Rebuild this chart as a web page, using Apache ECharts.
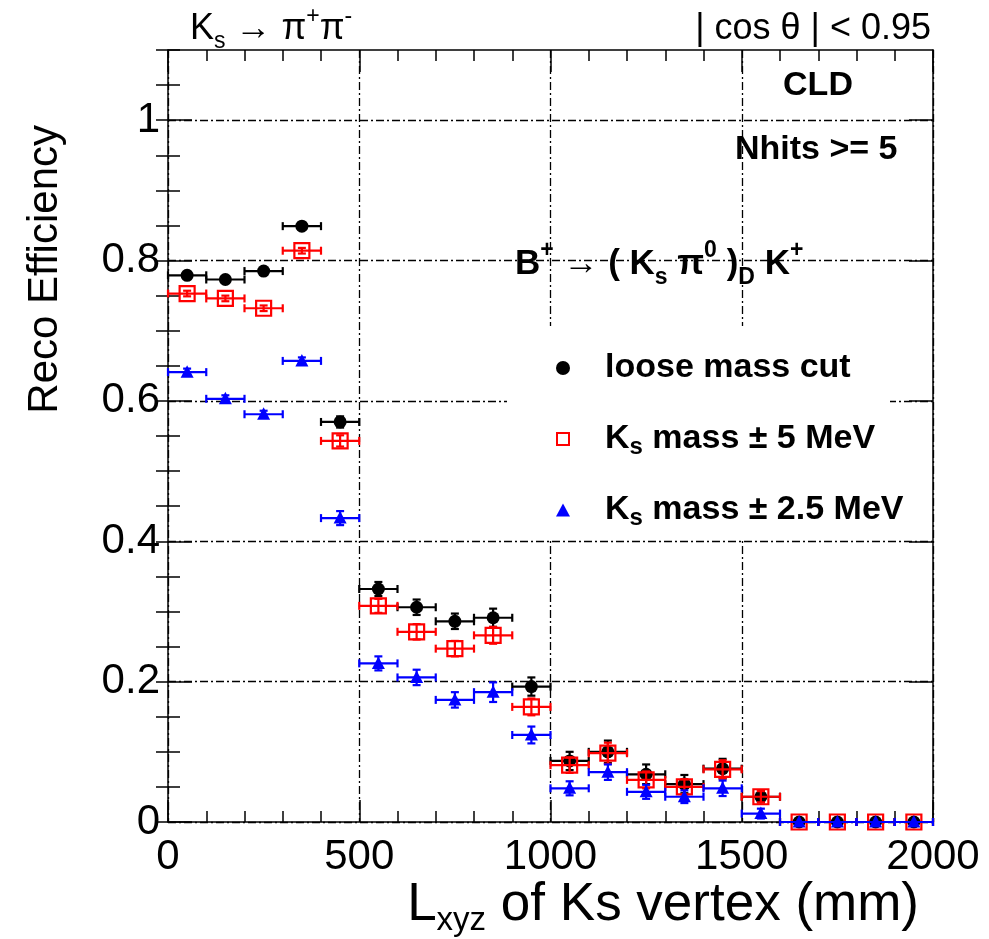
<!DOCTYPE html>
<html>
<head>
<meta charset="utf-8">
<script src="https://cdn.jsdelivr.net/npm/echarts@6/dist/echarts.min.js"></script>
<style>
  html, body { margin: 0; padding: 0; background: #fff; }
  #chart { width: 989px; height: 939px; }
</style>
</head>
<body>
<div id="chart"></div>
<script>
// Bin centres along L_xyz (mm); each bin is 100 mm wide
const binCenters = [50, 150, 250, 350, 450, 550, 650, 750, 850, 950,
                    1050, 1150, 1250, 1350, 1450, 1550, 1650, 1750, 1850, 1950];
const binHalfWidth = 50;

// Reconstruction efficiency per bin, with statistical uncertainty
const looseCut    = [0.779, 0.773, 0.785, 0.849, 0.570, 0.332, 0.306, 0.286, 0.291, 0.193,
                     0.087, 0.100, 0.068, 0.054, 0.076, 0.036, 0, 0, 0, 0];
const looseCutErr = [0.004, 0.004, 0.004, 0.004, 0.008, 0.010, 0.011, 0.011, 0.013, 0.013,
                     0.013, 0.016, 0.014, 0.013, 0.014, 0.008, 0, 0, 0, 0];

const mass5    = [0.753, 0.746, 0.732, 0.814, 0.543, 0.308, 0.271, 0.247, 0.266, 0.164,
                  0.081, 0.098, 0.060, 0.050, 0.075, 0.036, 0, 0, 0, 0];
const mass5Err = [0.004, 0.004, 0.004, 0.004, 0.008, 0.010, 0.011, 0.011, 0.012, 0.012,
                  0.011, 0.015, 0.012, 0.011, 0.013, 0.008, 0, 0, 0, 0];

const mass25    = [0.641, 0.603, 0.581, 0.657, 0.433, 0.226, 0.206, 0.174, 0.185, 0.124,
                   0.048, 0.071, 0.043, 0.036, 0.048, 0.012, 0, 0, 0, 0];
const mass25Err = [0.005, 0.005, 0.005, 0.005, 0.010, 0.010, 0.011, 0.011, 0.014, 0.012,
                   0.010, 0.011, 0.010, 0.009, 0.011, 0.007, 0, 0, 0, 0];

// Axis ranges and tick values
const xRange = [0, 2000];
const yRange = [0, 1.1];
const yMajorTicks = [0, 0.2, 0.4, 0.6, 0.8, 1.0];

const FONT = '"Liberation Sans", Arial, Helvetica, sans-serif';
const BLACK = '#000000', RED = '#ff0000', BLUE = '#0000ff';

function zipSeries(values, errs) {
  return binCenters.map((x, i) => [x, values[i], errs[i]]);
}

// Draws a data point with horizontal (bin width) and vertical (stat) error bars
function makeRenderer(marker, color) {
  const cap = 4;
  return function (params, api) {
    const x = api.value(0), y = api.value(1), e = api.value(2);
    const c = api.coord([x, y]);
    const l = api.coord([x - binHalfWidth, y]);
    const r = api.coord([x + binHalfWidth, y]);
    const st = { stroke: color, lineWidth: 2.2, fill: null };
    const kids = [
      { type: 'line', shape: { x1: l[0], y1: c[1], x2: r[0], y2: c[1] }, style: st },
      { type: 'line', shape: { x1: l[0], y1: c[1] - cap, x2: l[0], y2: c[1] + cap }, style: st },
      { type: 'line', shape: { x1: r[0], y1: c[1] - cap, x2: r[0], y2: c[1] + cap }, style: st }
    ];
    if (e > 0) {
      const lo = api.coord([x, y - e]);
      const hi = api.coord([x, y + e]);
      kids.push(
        { type: 'line', shape: { x1: c[0], y1: lo[1], x2: c[0], y2: hi[1] }, style: st },
        { type: 'line', shape: { x1: c[0] - cap, y1: lo[1], x2: c[0] + cap, y2: lo[1] }, style: st },
        { type: 'line', shape: { x1: c[0] - cap, y1: hi[1], x2: c[0] + cap, y2: hi[1] }, style: st }
      );
    }
    if (marker === 'circle') {
      kids.push({ type: 'circle', shape: { cx: c[0], cy: c[1], r: 6.5 }, style: { fill: color } });
    } else if (marker === 'openSquare') {
      kids.push({ type: 'rect', shape: { x: c[0] - 7.5, y: c[1] - 7.5, width: 15, height: 15 },
                  style: { stroke: color, lineWidth: 2.2, fill: null } });
    } else {
      kids.push({ type: 'polygon', shape: { points: [[c[0], c[1] - 7], [c[0] - 6.5, c[1] + 5.5], [c[0] + 6.5, c[1] + 5.5]] },
                  style: { fill: color } });
    }
    return { type: 'group', children: kids };
  };
}

const gridLine = { show: true, lineStyle: { color: '#000', width: 1.3, type: [8, 3, 2, 3] } };
const frameLine = { show: true, onZero: false, lineStyle: { color: '#000', width: 1.5 } };

const subStyle = { fontSize: 23, lineHeight: 23, verticalAlign: 'bottom', fontFamily: FONT };
const supStyle = { fontSize: 23, lineHeight: 23, verticalAlign: 'top', fontFamily: FONT };

const legendNames = ['loose mass cut', 'Ks mass ± 5 MeV', 'Ks mass ± 2.5 MeV'];
const legendLabels = {
  'loose mass cut': 'loose mass cut',
  'Ks mass ± 5 MeV': 'K{sub|s} mass ± 5 MeV',
  'Ks mass ± 2.5 MeV': 'K{sub|s} mass ± 2.5 MeV'
};

const chart = echarts.init(document.getElementById('chart'), null, { renderer: 'canvas' });

chart.setOption({
  animation: false,
  backgroundColor: '#fff',
  textStyle: { fontFamily: FONT },
  grid: { left: 168, right: 56, top: 50, bottom: 117 },
  xAxis: [
    {
      type: 'value', position: 'bottom', min: xRange[0], max: xRange[1], interval: 500,
      axisLine: frameLine,
      axisTick: { show: true, inside: true, length: 22, lineStyle: { color: '#000', width: 1.5 } },
      minorTick: { show: true, splitNumber: 5, length: 11, lineStyle: { color: '#000', width: 1.5 } },
      axisLabel: { color: '#000', fontSize: 42, fontFamily: FONT, margin: 14, formatter: v => String(v) },
      splitLine: gridLine
    },
    {
      type: 'value', position: 'top', min: xRange[0], max: xRange[1], interval: 500,
      axisLine: frameLine,
      axisTick: { show: true, inside: true, length: 22, lineStyle: { color: '#000', width: 1.5 } },
      minorTick: { show: true, splitNumber: 5, length: 11, lineStyle: { color: '#000', width: 1.5 } },
      axisLabel: { show: false },
      splitLine: { show: false }
    }
  ],
  yAxis: [
    {
      type: 'value', position: 'left', min: yRange[0], max: yRange[1],
      axisLine: frameLine,
      axisTick: { show: true, inside: true, length: 24, customValues: yMajorTicks,
                  lineStyle: { color: '#000', width: 1.5 } },
      axisLabel: { color: '#000', fontSize: 42, fontFamily: FONT, margin: 8,
                   customValues: yMajorTicks, formatter: v => String(Math.round(v * 10) / 10) },
      splitLine: gridLine
    },
    {
      type: 'value', position: 'left', min: yRange[0], max: yRange[1], interval: 0.05,
      axisLine: { show: false },
      axisTick: { show: true, inside: true, length: 12, lineStyle: { color: '#000', width: 1.5 } },
      axisLabel: { show: false },
      splitLine: { show: false }
    },
    {
      type: 'value', position: 'right', min: yRange[0], max: yRange[1],
      axisLine: frameLine,
      axisTick: { show: true, inside: true, length: 24, customValues: yMajorTicks,
                  lineStyle: { color: '#000', width: 1.5 } },
      axisLabel: { show: false },
      splitLine: { show: false }
    },
    {
      type: 'value', position: 'right', min: yRange[0], max: yRange[1], interval: 0.05,
      axisLine: { show: false },
      axisTick: { show: true, inside: true, length: 12, lineStyle: { color: '#000', width: 1.5 } },
      axisLabel: { show: false },
      splitLine: { show: false }
    }
  ],
  legend: {
    orient: 'vertical',
    left: 551, top: 343,
    itemWidth: 14, itemHeight: 14, itemGap: 31,
    selectedMode: false,
    data: [
      { name: legendNames[0], icon: 'circle' },
      { name: legendNames[1], icon: 'path://M0,0 H14 V14 H0 Z M2,2 V12 H12 V2 Z' },
      { name: legendNames[2], icon: 'path://M6,0 L12,11 L0,11 Z' }
    ],
    formatter: name => legendLabels[name],
    textStyle: {
      color: '#000', fontSize: 34, fontWeight: 'bold', fontFamily: FONT, lineHeight: 40,
      padding: [0, 0, 0, 30],
      rich: { sub: Object.assign({}, subStyle, { fontWeight: 'bold', fontSize: 24, lineHeight: 24 }) }
    }
  },
  graphic: {
    elements: [
      // White panel behind the legend
      { type: 'rect', z: 1, shape: { x: 507, y: 326, width: 383, height: 212 }, style: { fill: '#fff' } },
      // Decay channel, top left
      { type: 'text', z: 5, x: 190, y: 29,
        style: { text: 'K{sub|s} → π{sup|+}π{sup|-}', fontSize: 36, lineHeight: 48, fontFamily: FONT,
                 fill: '#000', align: 'left', verticalAlign: 'middle',
                 rich: { sub: subStyle, sup: supStyle } } },
      // Polar angle acceptance, top right
      { type: 'text', z: 5, x: 931, y: 29,
        style: { text: '| cos θ | < 0.95', fontSize: 36, fontFamily: FONT, fill: '#000',
                 align: 'right', verticalAlign: 'middle' } },
      { type: 'text', z: 5, x: 818, y: 86,
        style: { text: 'CLD', fontSize: 34, fontWeight: 'bold', fontFamily: FONT, fill: '#000',
                 align: 'center', verticalAlign: 'middle' } },
      { type: 'text', z: 5, x: 735, y: 150,
        style: { text: 'Nhits >= 5', fontSize: 34, fontWeight: 'bold', fontFamily: FONT, fill: '#000',
                 align: 'left', verticalAlign: 'middle' } },
      { type: 'text', z: 5, x: 515, y: 264,
        style: { text: 'B{sup|+} → ( K{sub|s} π{sup|0} ){sub|D} K{sup|+}', fontSize: 35, fontWeight: 'bold',
                 lineHeight: 50, fontFamily: FONT, fill: '#000', align: 'left', verticalAlign: 'middle',
                 rich: { sub: Object.assign({}, subStyle, { fontWeight: 'bold' }),
                         sup: Object.assign({}, supStyle, { fontWeight: 'bold' }) } } },
      // Axis titles
      { type: 'text', z: 5, x: 45, y: 125, rotation: Math.PI / 2,
        style: { text: 'Reco Efficiency', fontSize: 42, fontFamily: FONT, fill: '#000',
                 align: 'right', verticalAlign: 'middle' } },
      { type: 'text', z: 5, x: 919, y: 905,
        style: { text: 'L{sub|xyz} of Ks vertex (mm)', fontSize: 53, lineHeight: 64, fontFamily: FONT,
                 fill: '#000', align: 'right', verticalAlign: 'middle',
                 rich: { sub: { fontSize: 33, lineHeight: 33, verticalAlign: 'bottom', fontFamily: FONT } } } }
    ]
  },
  series: [
    { name: legendNames[0], type: 'custom', xAxisIndex: 0, yAxisIndex: 0, z: 3,
      itemStyle: { color: BLACK }, renderItem: makeRenderer('circle', BLACK),
      data: zipSeries(looseCut, looseCutErr) },
    { name: legendNames[1], type: 'custom', xAxisIndex: 0, yAxisIndex: 0, z: 3,
      itemStyle: { color: RED }, renderItem: makeRenderer('openSquare', RED),
      data: zipSeries(mass5, mass5Err) },
    { name: legendNames[2], type: 'custom', xAxisIndex: 0, yAxisIndex: 0, z: 3,
      itemStyle: { color: BLUE }, renderItem: makeRenderer('triangle', BLUE),
      data: zipSeries(mass25, mass25Err) }
  ]
});
</script>
</body>
</html>
